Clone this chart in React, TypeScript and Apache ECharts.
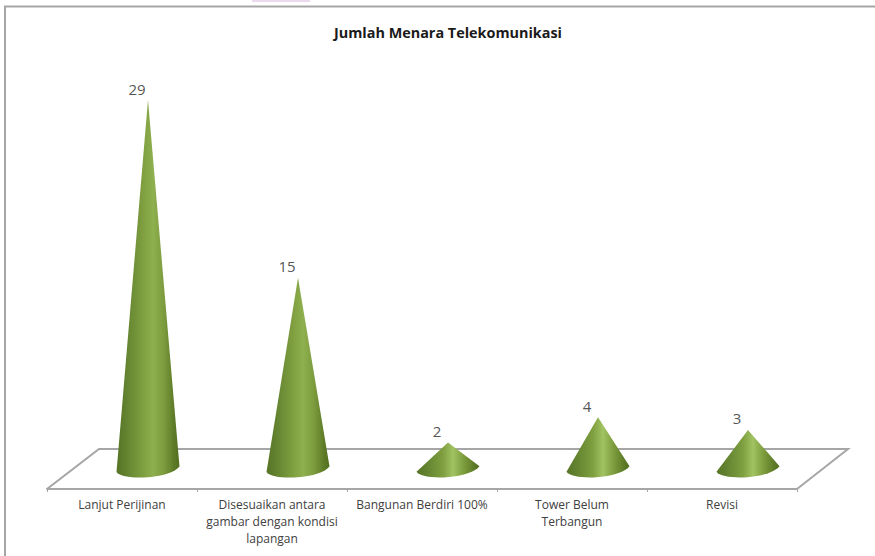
import React, { useEffect, useRef } from "react";
import * as echarts from "echarts";

const titleText = "Jumlah Menara Telekomunikasi";
const categories = [
  "Lanjut Perijinan",
  "Disesuaikan antara\ngambar dengan kondisi\nlapangan",
  "Bangunan Berdiri 100%",
  "Tower Belum\nTerbangun",
  "Revisi",
];
const values = [29, 15, 2, 4, 3];

const FONT = "'Open Sans', 'Noto Sans', sans-serif";

function coneItem(params: any, api: any) {
  const cx = api.coord([api.value(0), 0])[0];
  const y0 = api.coord([api.value(0), 0])[1];
  const yTop = api.coord([api.value(0), api.value(1)])[1];
  const r = 31.5;
  const d = [
    `M ${cx} ${yTop}`,
    `L ${cx + r} ${y0 - 2}`,
    `C ${cx + r - 4} ${y0 + 3}, ${cx + 16} ${y0 + 8}, ${cx - 4} ${y0 + 9}`,
    `C ${cx - 16} ${y0 + 9.5}, ${cx - r + 3} ${y0 + 8}, ${cx - r} ${y0 + 3.5}`,
    "Z",
  ].join(" ");
  const h = y0 - yTop;
  const mid = h > 100 ? "#8fb04f" : "#a2c362";
  return {
    type: "path",
    shape: { pathData: d, x: cx - r, y: yTop, width: 2 * r, height: h + 9.5, layout: "cover" },
    style: {
      fill: new echarts.graphic.LinearGradient(0, 0, 1, 0, [
        { offset: 0, color: "#567425" },
        { offset: 0.15, color: "#628230" },
        { offset: 0.42, color: "#7f9f40" },
        { offset: 0.58, color: mid },
        { offset: 0.75, color: "#7c9c3d" },
        { offset: 0.92, color: "#5c7a27" },
        { offset: 1, color: "#516d20" },
      ]),
      stroke: "none",
    },
  };
}

export default function App() {
  const ref = useRef<HTMLDivElement>(null);
  useEffect(() => {
    const chart = echarts.init(ref.current!, undefined, { renderer: "svg" });
    chart.setOption({
      animation: false,
      backgroundColor: "#ffffff",
      textStyle: { fontFamily: FONT },
      title: {
        text: titleText,
        left: 443,
        top: 20,
        textAlign: "center",
        textStyle: { fontFamily: FONT, fontSize: 14.4, fontWeight: "bold", color: "#1a1a1a" },
      },
      grid: [
        { left: 47, width: 750, top: 449, height: 40 },
        { left: 73, width: 750, top: 100, height: 368 },
      ],
      xAxis: [
        {
          gridIndex: 0,
          type: "category",
          data: categories,
          boundaryGap: true,
          axisLine: { show: true, lineStyle: { color: "#a6a6a6", width: 2 } },
          axisTick: { show: true, alignWithLabel: false, length: 3, lineStyle: { color: "#a6a6a6", width: 1 } },
          axisLabel: {
            interval: 0,
            margin: 7,
            color: "#404040",
            fontFamily: FONT,
            fontSize: 12,
            lineHeight: 17,
          },
        },
        { gridIndex: 1, type: "category", data: categories, show: false },
      ],
      yAxis: [
        { gridIndex: 0, type: "value", show: false, min: 0, max: 1 },
        { gridIndex: 1, type: "value", show: false, min: 0, max: 29 },
      ],
      graphic: [
        {
          type: "polyline",
          silent: true,
          z: 0,
          shape: { points: [[47, 489], [99, 449], [848, 449], [797, 489]] },
          style: { stroke: "#a6a6a6", lineWidth: 2, fill: "none" },
        },
        {
          type: "polyline",
          silent: true,
          z: 0,
          shape: { points: [[5, 556], [5, 6.5], [875, 6.5]] },
          style: { stroke: "#a6a6a6", lineWidth: 2, fill: "none" },
        },
        {
          type: "rect",
          silent: true,
          z: 0,
          shape: { x: 252, y: 0, width: 58, height: 2 },
          style: { fill: "#ecd9f0" },
        },
      ],
      series: [
        {
          type: "custom",
          xAxisIndex: 1,
          yAxisIndex: 1,
          data: values.map((v, i) => [i, v]),
          encode: { x: 0, y: 1 },
          renderItem: coneItem,
          clip: false,
          z: 3,
        },
        {
          type: "scatter",
          xAxisIndex: 1,
          yAxisIndex: 1,
          data: values.map((v, i) => [i, v]),
          symbolSize: 0,
          silent: true,
          clip: false,
          z: 4,
          label: {
            show: true,
            position: "top",
            distance: 3,
            offset: [-11, -1],
            color: "#262626",
            fontFamily: FONT,
            fontSize: 15,
            formatter: (p: any) => String(p.value[1]),
          },
        },
      ],
    });
    return () => chart.dispose();
  }, []);
  return (
    <div
      ref={ref}
      style={{ position: "fixed", left: 0, top: 0, width: 875, height: 556, background: "#fff" }}
    />
  );
}
